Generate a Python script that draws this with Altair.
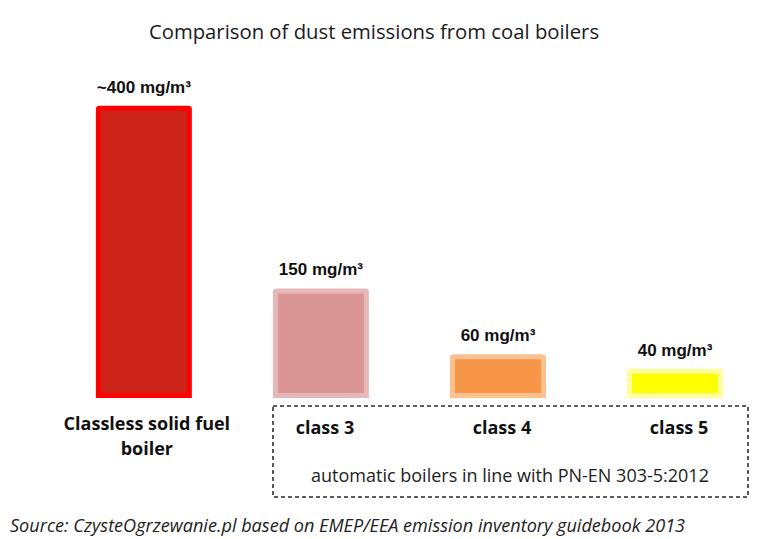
import altair as alt
import pandas as pd

keys = ["classless", "class3", "class4", "class5"]
values = [400, 150, 60, 40]
value_labels = ["~400 mg/m³", "150 mg/m³", "60 mg/m³", "40 mg/m³"]
cat_labels = ["Classless solid fuel\nboiler", "class 3", "class 4", "class 5"]
fill_colors = ["#CC2418", "#D99694", "#F79646", "#FFFF00"]
border_colors = ["#FF0000", "#E6B9B8", "#FAC090", "#FFFF99"]

title_text = "Comparison of dust emissions from coal boilers"
group_text = "automatic boilers in line with PN-EN 303-5:2012"
source_text = "Source: CzysteOgrzewanie.pl based on EMEP/EEA emission inventory guidebook 2013"

df = pd.DataFrame({"key": keys, "value": values, "vlabel": value_labels, "clabel": cat_labels})

x = alt.X("key:N", sort=keys, axis=None,
          scale=alt.Scale(paddingInner=0.458, paddingOuter=0.33, align=0.752))
y = alt.Y("value:Q", axis=None, scale=alt.Scale(domain=[0, 534], nice=False, zero=True))

base = alt.Chart(df)

outer = base.mark_bar(cornerRadiusTopLeft=3, cornerRadiusTopRight=3).encode(
    x=x, y=y, y2=alt.Y2(datum=0),
    color=alt.Color("key:N", scale=alt.Scale(domain=keys, range=border_colors), legend=None),
)
inner = base.mark_bar(size=86, yOffset=5, y2Offset=-5).encode(
    x=x, y=y, y2=alt.Y2(datum=0),
    fill=alt.Fill("key:N", scale=alt.Scale(domain=keys, range=fill_colors), legend=None),
)
vtext = base.mark_text(font="Liberation Sans", fontWeight="bold", fontSize=17,
                       baseline="middle", dy=-18, color="#111").encode(
    x=x, y=y, text="vlabel:N")

cat1 = alt.Chart(df[df.key == "classless"]).mark_text(
    font="Open Sans", fontWeight="bold", fontSize=18, baseline="middle",
    lineBreak="\n", lineHeight=25, dx=3, color="#111").encode(
    x=x, y=alt.value(417), text="clabel:N")
cat2 = alt.Chart(df[df.key != "classless"]).mark_text(
    font="Open Sans", fontWeight="bold", fontSize=18, baseline="middle",
    dx=4, color="#111").encode(
    x=x, y=alt.value(421), text="clabel:N")

box = alt.Chart(df).mark_rect(fill=None, stroke="#555555", strokeWidth=1.2,
                              strokeDash=[4, 3]).encode(
    x=alt.value(265), x2=alt.value(740), y=alt.value(398), y2=alt.value(489))

grp = alt.Chart(pd.DataFrame({"t": [group_text]})).mark_text(
    font="Open Sans", fontSize=18, baseline="middle", color="#222").encode(
    x=alt.value(502), y=alt.value(469), text="t:N")

ttl = alt.Chart(pd.DataFrame({"t": [title_text]})).mark_text(
    font="Open Sans", fontSize=20.3, baseline="middle", color="#1a1a1a").encode(
    x=alt.value(366), y=alt.value(25), text="t:N")

src = alt.Chart(pd.DataFrame({"t": [source_text]})).mark_text(
    font="Open Sans", fontStyle="italic", fontSize=18.1, baseline="middle",
    align="left", color="#222").encode(
    x=alt.value(2), y=alt.value(519), text="t:N")

chart = alt.layer(box, outer, inner, vtext, cat1, cat2, grp, ttl, src).resolve_scale(
    color="independent", fill="independent"
).properties(
    width=744, height=390,
    background="white",
    autosize=alt.AutoSizeParams(type="none"),
    padding={"left": 0, "top": 0, "right": 0, "bottom": 140},
).configure_view(strokeWidth=0, stroke="transparent")

chart.save("out.html", embed_options={"renderer": "svg", "actions": False})
